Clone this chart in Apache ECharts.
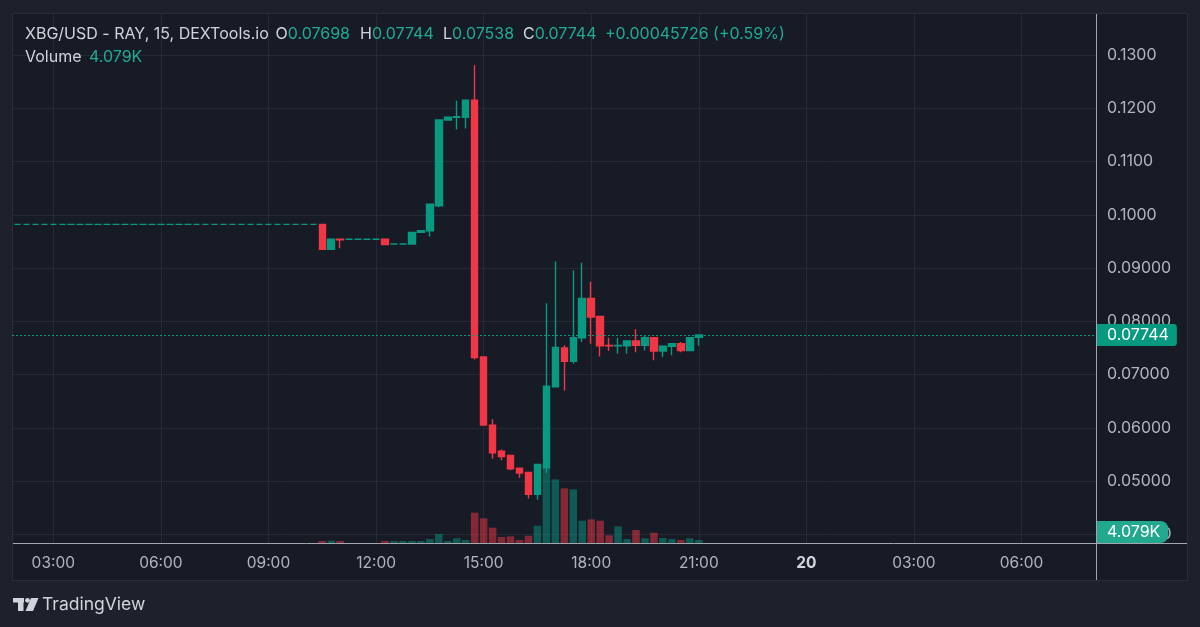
<!DOCTYPE html>
<html>
<head>
<meta charset="utf-8">
<script src="https://cdn.jsdelivr.net/npm/echarts@6/dist/echarts.min.js"></script>
<style>
html,body{margin:0;padding:0;background:#1e212b;width:1200px;height:627px;overflow:hidden;}
#panel{position:absolute;left:12px;top:13px;width:1176px;height:568px;box-sizing:border-box;background:#171b26;border:1px solid #2a2e39;}
#chart{position:absolute;left:0;top:0;width:1200px;height:627px;}
</style>
</head>
<body>
<div id="panel"></div>
<div id="chart"></div>
<script>
// ---- data (15-minute candles, 19th) ----
const times = ['02:00','02:15','02:30','02:45','03:00','03:15','03:30','03:45','04:00','04:15','04:30','04:45',
  '05:00','05:15','05:30','05:45','06:00','06:15','06:30','06:45','07:00','07:15','07:30','07:45',
  '08:00','08:15','08:30','08:45','09:00','09:15','09:30','09:45','10:00','10:15',
  '10:30','10:45','11:00','11:15','11:30','11:45','12:00','12:15','12:30','12:45',
  '13:00','13:15','13:30','13:45','14:00','14:15','14:30','14:45','15:00','15:15','15:30','15:45',
  '16:00','16:15','16:30','16:45','17:00','17:15','17:30','17:45','18:00','18:15','18:30','18:45',
  '19:00','19:15','19:30','19:45','20:00','20:15','20:30','20:45','21:00'];
const openP = [0.0982,0.0982,0.0982,0.0982,0.0982,0.0982,0.0982,0.0982,0.0982,0.0982,0.0982,0.0982,
  0.0982,0.0982,0.0982,0.0982,0.0982,0.0982,0.0982,0.0982,0.0982,0.0982,0.0982,0.0982,
  0.0982,0.0982,0.0982,0.0982,0.0982,0.0982,0.0982,0.0982,0.0982,0.0982,
  0.0982,0.0935,0.0954,0.0954,0.0954,0.0954,0.0954,0.0954,0.0945,0.0945,
  0.0945,0.0967,0.0970,0.1017,0.1178,0.1183,0.1183,0.1215,0.0733,0.0605,0.0556,0.0548,
  0.0524,0.0516,0.0475,0.0525,0.0677,0.0750,0.0725,0.0769,0.0843,0.0809,0.07545,0.0754,
  0.0754,0.0763,0.0755,0.0769,0.0744,0.0753,0.0758,0.0745,0.07698];
const closeP = [0.0982,0.0982,0.0982,0.0982,0.0982,0.0982,0.0982,0.0982,0.0982,0.0982,0.0982,0.0982,
  0.0982,0.0982,0.0982,0.0982,0.0982,0.0982,0.0982,0.0982,0.0982,0.0982,0.0982,0.0982,
  0.0982,0.0982,0.0982,0.0982,0.0982,0.0982,0.0982,0.0982,0.0982,0.0982,
  0.0935,0.0954,0.0953,0.0954,0.0954,0.0954,0.0954,0.0944,0.0945,0.0945,
  0.0967,0.0970,0.1020,0.1178,0.1183,0.1184,0.1215,0.0732,0.0605,0.0553,0.0546,0.0523,
  0.0515,0.0475,0.0531,0.0678,0.0751,0.0725,0.0769,0.0843,0.0808,0.0754,0.0754,0.07545,
  0.0763,0.0755,0.0769,0.0744,0.0753,0.0758,0.0745,0.0769,0.07744];
const lowP = [0.0982,0.0982,0.0982,0.0982,0.0982,0.0982,0.0982,0.0982,0.0982,0.0982,0.0982,0.0982,
  0.0982,0.0982,0.0982,0.0982,0.0982,0.0982,0.0982,0.0982,0.0982,0.0982,0.0982,0.0982,
  0.0982,0.0982,0.0982,0.0982,0.0982,0.0982,0.0982,0.0982,0.0982,0.0982,
  0.0934,0.0934,0.0937,0.0954,0.0954,0.0954,0.0954,0.0944,0.0945,0.0945,
  0.0945,0.0967,0.0959,0.1014,0.1178,0.1160,0.1162,0.0728,0.0604,0.0542,0.0539,0.0520,
  0.0506,0.0467,0.0465,0.0515,0.0677,0.0670,0.0720,0.0761,0.0758,0.0734,0.0744,0.0739,
  0.0739,0.0742,0.0745,0.0727,0.0733,0.0736,0.0742,0.0745,0.07538];
const highP = [0.0982,0.0982,0.0982,0.0982,0.0982,0.0982,0.0982,0.0982,0.0982,0.0982,0.0982,0.0982,
  0.0982,0.0982,0.0982,0.0982,0.0982,0.0982,0.0982,0.0982,0.0982,0.0982,0.0982,0.0982,
  0.0982,0.0982,0.0982,0.0982,0.0982,0.0982,0.0982,0.0982,0.0982,0.0982,
  0.0983,0.0955,0.0954,0.0954,0.0954,0.0954,0.0954,0.0954,0.0945,0.0945,
  0.0967,0.0970,0.1020,0.1178,0.1183,0.1214,0.1215,0.1281,0.0733,0.0616,0.0559,0.0548,
  0.0524,0.0516,0.0531,0.0834,0.0912,0.0755,0.0896,0.0910,0.0874,0.0810,0.0769,0.0769,
  0.0763,0.0785,0.0774,0.0769,0.0753,0.0758,0.0761,0.0769,0.07744];
// volume in thousands
const volumeK = [0,0,0,0,0,0,0,0,0,0,0,0,
  0,0,0,0,0,0,0,0,0,0,0,0,
  0,0,0,0,0,0,0,0,0,0,
  2.7,3.1,2.7,0,0,0,0,2.7,2.7,2.7,
  2.7,2.7,5.4,12.2,2.7,6.4,4.1,41.2,33.6,20.8,8.2,9.1,
  4.1,9.9,23.5,103,86.6,74.4,73,30.3,32.2,30.3,10.5,22.7,
  5.4,17.7,6.4,14,6.8,5.4,4.1,6.4,4.079];
// axis ticks (hours from 00:00 on the 19th)
const xTickHours = [3,6,9,12,15,18,21,24,27,30];
const xTickLabels = ['03:00','06:00','09:00','12:00','15:00','18:00','21:00','20','03:00','06:00'];
const yTickValues = [0.04,0.05,0.06,0.07,0.08,0.09,0.10,0.11,0.12,0.13];
const headerTitle = 'XBG/USD - RAY, 15, DEXTools.io';
const headerChange = '+0.00045726 (+0.59%)';

// ---- build ----
const UP = '#089981', DOWN = '#f23645';
const FONT = 'Inter';
const HF = '16px ' + FONT;
function toHours(s){ const p = s.split(':'); return (+p[0]) + (+p[1]) / 60; }
const xs = times.map(toHours);
const candleData = xs.map((x, i) => [x, openP[i], closeP[i], lowP[i], highP[i]]);
function isUp(i){
  if (closeP[i] > openP[i]) return true;
  if (closeP[i] < openP[i]) return false;
  return i === 0 ? true : closeP[i - 1] <= closeP[i];
}
const volData = xs.map((x, i) => ({
  value: [x, volumeK[i]],
  itemStyle: { color: isUp(i) ? 'rgba(8,153,129,0.5)' : 'rgba(242,54,69,0.5)' }
}));
const last = times.length - 1;
const fmtP = v => (v >= 0.1 ? v.toFixed(4) : v.toFixed(5));
function ohlc(letter, v){
  return { text: '{w|' + letter + '}{g|' + fmtP(v) + '}', verticalAlign: 'middle', font: HF,
    rich: { w: { fill: '#d1d4dc', font: HF }, g: { fill: '#22ab94', font: HF } } };
}

const chart = echarts.init(document.getElementById('chart'), null, { renderer: 'canvas' });
chart.setOption({
  backgroundColor: 'transparent',
  animation: false,
  textStyle: { fontFamily: FONT },
  grid: { left: 12, right: 103, top: 14, bottom: 84, containLabel: false },
  xAxis: {
    type: 'value', min: 1.848, max: 32.105,
    axisLine: { show: false },
    axisTick: { show: false, customValues: xTickHours },
    splitLine: { show: true, lineStyle: { color: '#262a35', width: 1 } },
    axisLabel: {
      customValues: xTickHours, margin: 12,
      color: '#b2b5be', fontSize: 15.5, fontFamily: FONT,
      formatter: v => {
        const k = xTickHours.indexOf(v);
        const t = k >= 0 ? xTickLabels[k] : '';
        return v % 24 === 0 ? '{b|' + t + '}' : t;
      },
      rich: { b: { fontWeight: 'bold', color: '#d1d4dc', fontSize: 15.5, fontFamily: FONT } }
    }
  },
  yAxis: [{
    type: 'value', position: 'right', min: 0.03836, max: 0.1377,
    axisLine: { show: false },
    axisTick: { show: false, customValues: yTickValues },
    splitLine: { show: true, lineStyle: { color: '#262a35', width: 1 } },
    axisLabel: { customValues: yTickValues, margin: 10, color: '#b2b5be', fontSize: 16, fontFamily: FONT, formatter: fmtP }
  }, {
    type: 'value', position: 'right', min: 0, max: 720, show: false,
    splitLine: { show: false }
  }],
  series: [{
    type: 'bar', name: 'Volume', xAxisIndex: 0, yAxisIndex: 1,
    barWidth: 7.5, data: volData,
    markLine: {
      silent: true, symbol: ['none', 'none'], precision: 3, z: 10,
      lineStyle: { color: 'rgba(0,0,0,0)', width: 1 },
      data: [{ yAxis: volumeK[last] }],
      label: {
        position: 'end', distance: 0, offset: [0, -8],
        formatter: volumeK[last].toFixed(3) + 'K',
        color: '#ffffff', fontSize: 16, fontFamily: FONT,
        backgroundColor: '#22a88f', padding: [3, 8, 3, 10], borderRadius: [0, 8, 8, 0]
      }
    }
  }, {
    type: 'candlestick', name: 'XBG/USD', xAxisIndex: 0, yAxisIndex: 0,
    barWidth: 7, data: candleData,
    encode: { x: 0, y: [1, 2, 3, 4] },
    itemStyle: { color: UP, color0: DOWN, borderColor: UP, borderColor0: DOWN, borderWidth: 1.4 },
    markLine: {
      silent: true, symbol: ['none', 'none'], precision: 5, z: 10,
      lineStyle: { color: UP, type: [2, 2], width: 1 },
      data: [{ yAxis: closeP[last] }],
      label: {
        position: 'end', distance: 0,
        formatter: fmtP(closeP[last]),
        color: '#ffffff', fontSize: 16, fontFamily: FONT,
        backgroundColor: UP, padding: [3, 8, 3, 10], borderRadius: [0, 3, 3, 0]
      }
    }
  }],
  graphic: [
    { type: 'line', shape: { x1: 13, y1: 543.5, x2: 1187, y2: 543.5 }, style: { stroke: '#a3a6af', lineWidth: 1 }, z: 50 },
    { type: 'line', shape: { x1: 1096.5, y1: 14, x2: 1096.5, y2: 580 }, style: { stroke: '#a3a6af', lineWidth: 1 }, z: 50 },
    { type: 'text', x: 25, y: 34, style: { text: headerTitle, fill: '#d1d4dc', font: HF, verticalAlign: 'middle' }, z: 60 },
    { type: 'text', x: 275.5, y: 34, style: ohlc('O', openP[last]), z: 60 },
    { type: 'text', x: 360, y: 34, style: ohlc('H', highP[last]), z: 60 },
    { type: 'text', x: 443, y: 34, style: ohlc('L', lowP[last]), z: 60 },
    { type: 'text', x: 523, y: 34, style: ohlc('C', closeP[last]), z: 60 },
    { type: 'text', x: 605, y: 34, style: { text: headerChange, fill: '#22ab94', font: HF, verticalAlign: 'middle' }, z: 60 },
    { type: 'text', x: 25, y: 57, style: { text: 'Volume', fill: '#d1d4dc', font: HF, verticalAlign: 'middle' }, z: 60 },
    { type: 'text', x: 89, y: 57, style: { text: volumeK[last].toFixed(3) + 'K', fill: '#22ab94', font: HF, verticalAlign: 'middle' }, z: 60 },
    // TradingView logo
    { type: 'rect', shape: { x: 13, y: 598, width: 11, height: 4.5 }, style: { fill: '#d1d4dc' }, z: 60 },
    { type: 'rect', shape: { x: 18, y: 598, width: 5.5, height: 13 }, style: { fill: '#d1d4dc' }, z: 60 },
    { type: 'circle', shape: { cx: 27.5, cy: 600.3, r: 2.4 }, style: { fill: '#d1d4dc' }, z: 60 },
    { type: 'polygon', shape: { points: [[31, 598], [38.5, 598], [33, 611], [25.5, 611]] }, style: { fill: '#d1d4dc' }, z: 60 },
    { type: 'text', x: 42, y: 604.5, style: { text: 'TradingView', fill: '#d1d4dc', font: '17.5px ' + FONT, verticalAlign: 'middle' }, z: 60 }
  ]
});
</script>
</body>
</html>
